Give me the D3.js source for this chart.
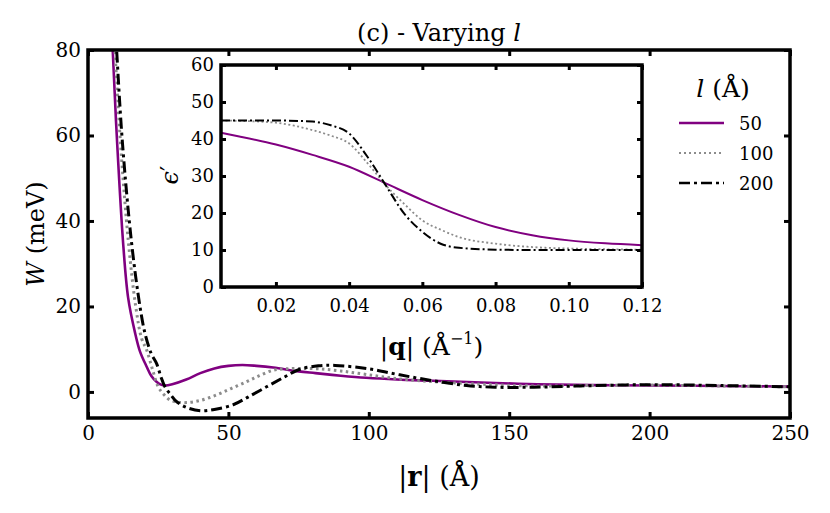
<!DOCTYPE html>
<html>
<head>
<meta charset="utf-8">
<script src="https://cdn.jsdelivr.net/npm/d3@7"></script>
<style>
  body { margin: 0; background: #fff; }
</style>
</head>
<body>
<div id="chart"></div>
<script>
// main panel: W(r) for three values of l
const lValues = ["50", "100", "200"];

const wL50 = [
  [8.0, 95], [8.8, 80], [10.4, 58], [12.6, 34], [14.3, 22], [16.7, 14], [18.5, 9.5],
  [20.9, 5.9], [22.5, 3.8], [24.4, 2.4], [26, 1.7], [27.4, 1.5], [30, 1.8], [35, 2.9],
  [40, 4.4], [45, 5.5], [50, 6.1], [55, 6.3], [60, 6.1], [66, 5.7], [75, 4.8], [81, 4.4],
  [90, 3.8], [99, 3.3], [110, 2.9], [123, 2.6], [140, 2.2], [160, 1.8], [180, 1.6],
  [200, 1.5], [225, 1.4], [250, 1.25]
];
const wL100 = [
  [8.5, 95], [9.6, 80], [11.6, 58], [14.4, 35], [17, 20], [19.1, 12.5], [20.9, 9.8],
  [23, 5.2], [25, 1.2], [27, -0.6], [29.2, -1.9], [32, -2.4], [35.1, -2.5], [40, -2.0],
  [45.8, -0.7], [51, 0.8], [56.5, 2.4], [61, 3.8], [66, 5.1], [70, 5.4], [75.4, 5.5],
  [82, 5.4], [90, 4.9], [99, 4.1], [110, 3.1], [123, 2.4], [140, 1.8], [158.5, 1.4],
  [180, 1.5], [200, 1.6], [225, 1.4], [250, 1.2]
];
const wL200 = [
  [9.0, 95], [10.2, 80], [12.3, 58], [15.5, 35], [18.5, 20], [20.3, 13.7], [22.5, 9],
  [24.4, 6.7], [26, 3.5], [27.4, 1.2], [29.5, -0.7], [31.6, -2.3], [35, -3.6], [40, -4.4],
  [45, -4.1], [51.7, -3.0], [57, -1.2], [63.6, 1.2], [70, 3.5], [75.4, 5.3], [82, 6.1],
  [88, 6.2], [100, 5.4], [111, 4.0], [123, 2.6], [134.8, 1.5], [145, 1.1], [158.5, 1.1],
  [175, 1.4], [200, 1.7], [225, 1.5], [250, 1.2]
];

// inset: epsilon'(q)
const epsL50 = [
  [0.005, 41.7], [0.01, 40.7], [0.02, 38.5], [0.03, 35.7], [0.04, 32.5], [0.05, 28],
  [0.06, 23.5], [0.07, 19.5], [0.08, 16.2], [0.09, 14.0], [0.10, 12.6], [0.11, 11.8], [0.12, 11.3]
];
const epsL100 = [
  [0.005, 45], [0.01, 44.9], [0.02, 44.4], [0.025, 43.6], [0.03, 42.4], [0.035, 40.9],
  [0.04, 38.8], [0.045, 33.5], [0.05, 27.5], [0.055, 22.5], [0.06, 18], [0.065, 15.5],
  [0.07, 13.5], [0.08, 11.7], [0.09, 10.8], [0.10, 10.4], [0.11, 10.2], [0.12, 10.1]
];
const epsL200 = [
  [0.005, 45], [0.02, 45], [0.03, 44.7], [0.035, 43.7], [0.04, 41.5], [0.045, 35.2],
  [0.05, 27.5], [0.055, 19.9], [0.06, 14.9], [0.065, 11.7], [0.07, 10.6], [0.08, 10.1],
  [0.09, 10], [0.10, 10], [0.12, 10]
];

const rTicks = [0, 50, 100, 150, 200, 250];
const wTicks = [0, 20, 40, 60, 80];
const qTicks = [0.02, 0.04, 0.06, 0.08, 0.10, 0.12];
const epsTicks = [0, 10, 20, 30, 40, 50, 60];

const WIDTH = 830, HEIGHT = 513;
const FONT = "DejaVu Serif";

const styles = [
  { color: "#800080", width: 2.6, dash: null, insetWidth: 2, insetDash: null },
  { color: "#8c8c8c", width: 3, dash: "2.5,3.5", insetWidth: 1.8, insetDash: "2,2.5" },
  { color: "#000000", width: 3, dash: "11,4,3,4", insetWidth: 2, insetDash: "9,3,2,3" }
];

const svg = d3.select("#chart")
  .append("svg")
  .attr("width", WIDTH)
  .attr("height", HEIGHT)
  .style("font-family", FONT);

// ---- main panel ----
const main = { left: 88, right: 790, top: 50, bottom: 418 };

const x = d3.scaleLinear().domain([0, 250]).range([main.left, main.right]);
const y = d3.scaleLinear().domain([-6.1, 80]).range([main.bottom, main.top]);

svg.append("clipPath").attr("id", "clip-main")
  .append("rect")
  .attr("x", main.left).attr("y", main.top)
  .attr("width", main.right - main.left).attr("height", main.bottom - main.top);

const line = d3.line()
  .curve(d3.curveCatmullRom.alpha(0.5))
  .x(d => x(d[0]))
  .y(d => y(d[1]));

const gMain = svg.append("g").attr("clip-path", "url(#clip-main)");
[wL50, wL100, wL200].forEach((serie, i) => {
  gMain.append("path")
    .attr("d", line(serie))
    .attr("fill", "none")
    .attr("stroke", styles[i].color)
    .attr("stroke-width", styles[i].width)
    .attr("stroke-dasharray", styles[i].dash);
});

function drawAxes(xs, ys, box, xt, yt, fmtX, fontSize, tickLen, padX) {
  const bottom = svg.append("g")
    .attr("transform", `translate(0, ${box.bottom})`)
    .call(d3.axisBottom(xs).tickValues(xt).tickSize(-tickLen).tickPadding(padX).tickFormat(fmtX));
  const left = svg.append("g")
    .attr("transform", `translate(${box.left}, 0)`)
    .call(d3.axisLeft(ys).tickValues(yt).tickSize(-tickLen).tickPadding(7));
  const top = svg.append("g")
    .attr("transform", `translate(0, ${box.top})`)
    .call(d3.axisTop(xs).tickValues(xt).tickSize(-tickLen).tickFormat(""));
  const right = svg.append("g")
    .attr("transform", `translate(${box.right}, 0)`)
    .call(d3.axisRight(ys).tickValues(yt).tickSize(-tickLen).tickFormat(""));
  [bottom, left, top, right].forEach(a => {
    a.attr("font-family", null).attr("font-size", null);
    a.select(".domain").remove();
    a.selectAll("line").attr("stroke", "#000").attr("stroke-width", 3);
    a.selectAll("text")
      .attr("fill", "#000")
      .style("font-family", FONT)
      .style("font-size", fontSize + "px");
  });
  svg.append("rect")
    .attr("x", box.left).attr("y", box.top)
    .attr("width", box.right - box.left).attr("height", box.bottom - box.top)
    .attr("fill", "none")
    .attr("stroke", "#000")
    .attr("stroke-width", 3.5);
}

drawAxes(x, y, main, rTicks, wTicks, d3.format("d"), 20, 6, 8);

// main axis labels
const yLabel = svg.append("text")
  .attr("transform", `translate(44, ${(main.top + main.bottom) / 2}) rotate(-90)`)
  .attr("text-anchor", "middle")
  .style("font-size", "24px");
yLabel.append("tspan").attr("font-style", "italic").text("W");
yLabel.append("tspan").text(" (meV)");

const xLabel = svg.append("text")
  .attr("x", (main.left + main.right) / 2)
  .attr("y", 486)
  .attr("text-anchor", "middle")
  .style("font-size", "27px");
xLabel.append("tspan").text("|");
xLabel.append("tspan").attr("font-weight", "bold").text("r");
xLabel.append("tspan").text("| (Å)");

const title = svg.append("text")
  .attr("x", (main.left + main.right) / 2)
  .attr("y", 41)
  .attr("text-anchor", "middle")
  .style("font-size", "24px");
title.append("tspan").text("(c) - Varying ");
title.append("tspan").attr("font-style", "italic").text("l");

// ---- legend ----
const legendTitle = svg.append("text")
  .attr("x", 723).attr("y", 97)
  .attr("text-anchor", "middle")
  .style("font-size", "25px");
legendTitle.append("tspan").attr("font-style", "italic").text("l");
legendTitle.append("tspan").text(" (Å)");

const legendY = [123, 153, 183];
lValues.forEach((lab, i) => {
  svg.append("line")
    .attr("x1", 679).attr("x2", 724)
    .attr("y1", legendY[i]).attr("y2", legendY[i])
    .attr("stroke", styles[i].color)
    .attr("stroke-width", i === 1 ? 2 : 2.6)
    .attr("stroke-dasharray", i === 0 ? null : (i === 1 ? "2,3" : "11,4,3,4"));
  svg.append("text")
    .attr("x", 739).attr("y", legendY[i] + 7)
    .style("font-size", "18px")
    .text(lab);
});

// ---- inset ----
const inset = { left: 221, right: 642, top: 65, bottom: 287 };

svg.append("rect")
  .attr("x", inset.left).attr("y", inset.top)
  .attr("width", inset.right - inset.left).attr("height", inset.bottom - inset.top)
  .attr("fill", "#fff");

const xq = d3.scaleLinear().domain([0.005, 0.12]).range([inset.left, inset.right]);
const ye = d3.scaleLinear().domain([0, 60]).range([inset.bottom, inset.top]);

const insetLine = d3.line()
  .curve(d3.curveMonotoneX)
  .x(d => xq(d[0]))
  .y(d => ye(d[1]));

[epsL50, epsL100, epsL200].forEach((serie, i) => {
  svg.append("path")
    .attr("d", insetLine(serie))
    .attr("fill", "none")
    .attr("stroke", styles[i].color)
    .attr("stroke-width", styles[i].insetWidth)
    .attr("stroke-dasharray", styles[i].insetDash);
});

drawAxes(xq, ye, inset, qTicks, epsTicks, d3.format(".2f"), 18, 5, 12);

const epsLabel = svg.append("text")
  .attr("transform", `translate(178, 175) rotate(-90)`)
  .attr("text-anchor", "middle")
  .style("font-size", "24px");
epsLabel.append("tspan").attr("font-style", "italic").text("ϵ");
epsLabel.append("tspan").text("′");

const qLabel = svg.append("text")
  .attr("x", (inset.left + inset.right) / 2)
  .attr("y", 355)
  .attr("text-anchor", "middle")
  .style("font-size", "25px");
qLabel.append("tspan").text("|");
qLabel.append("tspan").attr("font-weight", "bold").text("q");
qLabel.append("tspan").text("| (Å");
qLabel.append("tspan").attr("dy", -11).style("font-size", "16px").text("−1");
qLabel.append("tspan").attr("dy", 11).text(")");
</script>
</body>
</html>
